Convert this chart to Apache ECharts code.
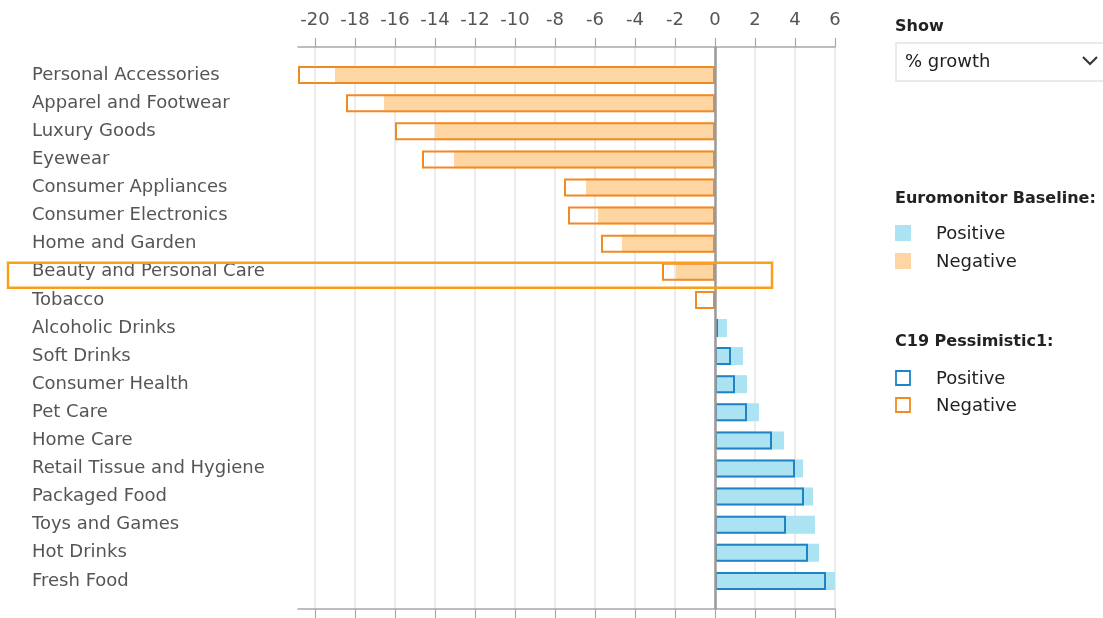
<!DOCTYPE html>
<html>
<head>
<meta charset="utf-8">
<script src="https://cdn.jsdelivr.net/npm/echarts@6/dist/echarts.min.js"></script>
<style>
  html, body { margin: 0; padding: 0; background: #ffffff; }
  #chart { width: 1103px; height: 618px; }
</style>
</head>
<body>
<div id="chart"></div>
<script>
const categories = [
  'Personal Accessories', 'Apparel and Footwear', 'Luxury Goods', 'Eyewear',
  'Consumer Appliances', 'Consumer Electronics', 'Home and Garden',
  'Beauty and Personal Care', 'Tobacco', 'Alcoholic Drinks', 'Soft Drinks',
  'Consumer Health', 'Pet Care', 'Home Care', 'Retail Tissue and Hygiene',
  'Packaged Food', 'Toys and Games', 'Hot Drinks', 'Fresh Food'
];
const baselineGrowth = [-19.0, -16.55, -14.0, -13.05, -6.45, -5.85, -4.65, -1.95, 0, 0.6, 1.4, 1.6, 2.2, 3.45, 4.4, 4.9, 5.0, 5.2, 6.0];
const pessimisticGrowth = [-20.85, -18.45, -16.0, -14.65, -7.55, -7.35, -5.7, -2.65, -1.0, 0.15, 0.8, 1.0, 1.6, 2.85, 4.0, 4.45, 3.55, 4.65, 5.55];
const xTickValues = [-20, -18, -16, -14, -12, -10, -8, -6, -4, -2, 0, 2, 4, 6];
const highlightCategory = 'Beauty and Personal Care';

const FONT = '"DejaVu Sans", sans-serif';
const POS_FILL = '#abe3f2', NEG_FILL = '#fdd6a4';
const POS_LINE = '#1f84c6', NEG_LINE = '#f08a24';

// pad with empty slots so the categories sit inside the axis span
const yData = [''].concat(categories, ['']);
const pad = arr => ['-'].concat(arr, ['-']);
const xMin = Math.min.apply(null, pessimisticGrowth.concat(baselineGrowth));
const xMax = 6;

const chart = echarts.init(document.getElementById('chart'), null, { renderer: 'canvas' });

const xAxisBase = {
  type: 'value', min: xMin, max: xMax,
  axisLine: { show: true, lineStyle: { color: '#a8a8a8', width: 1.5 } },
  axisTick: { show: true, length: 9, customValues: xTickValues, lineStyle: { color: '#a8a8a8', width: 1.2 } },
};

const option = {
  animation: false,
  backgroundColor: '#ffffff',
  grid: { left: 298, right: 268, top: 47, bottom: 9, containLabel: false },
  xAxis: [
    Object.assign({}, xAxisBase, {
      position: 'top',
      axisLabel: { show: true, customValues: xTickValues, margin: 18, color: '#555', fontSize: 18, fontFamily: FONT },
      splitLine: { show: true, lineStyle: { color: '#e6e6e6', width: 1.5 } }
    }),
    Object.assign({}, xAxisBase, {
      position: 'bottom',
      axisLabel: { show: false },
      splitLine: { show: false }
    })
  ],
  yAxis: {
    type: 'category', data: yData, inverse: true, boundaryGap: false,
    axisLine: { show: false }, axisTick: { show: false }, splitLine: { show: false },
    axisLabel: { align: 'left', margin: 266, color: '#555', fontSize: 18, fontFamily: FONT }
  },
  series: [
    {
      name: 'Euromonitor Baseline', type: 'bar', xAxisIndex: 0, barWidth: 18,
      data: pad(baselineGrowth),
      itemStyle: { color: p => (p.value >= 0 ? POS_FILL : NEG_FILL) },
      markLine: {
        silent: true, symbol: 'none', label: { show: false },
        lineStyle: { color: '#9a9a9a', width: 2.5, type: 'solid' },
        data: [{ xAxis: 0 }]
      },
      z: 2
    },
    {
      name: 'C19 Pessimistic1', type: 'bar', xAxisIndex: 0, barWidth: 18, barGap: '-100%',
      data: pad(pessimisticGrowth).map(v => v === '-' ? v : ({ value: v, itemStyle: { borderColor: v >= 0 ? POS_LINE : NEG_LINE } })),
      itemStyle: { color: 'rgba(0,0,0,0)', borderWidth: 2 },
      z: 3
    }
  ]
};
chart.setOption(option);

const hy = chart.convertToPixel({ yAxisIndex: 0 }, highlightCategory);
const legendText = (x, y, text, bold) => ({
  type: 'text', x: x, y: y,
  style: { text: text, fill: '#222', font: (bold ? 'bold 16px ' : '18px ') + FONT, textVerticalAlign: 'middle' }
});
chart.setOption({
  graphic: [
    { type: 'rect', shape: { x: 8, y: hy - 9, width: 764, height: 25 }, style: { fill: 'none', stroke: '#f9a01b', lineWidth: 2.5 }, z: 10 },
    legendText(895, 27, 'Show', true),
    { type: 'rect', shape: { x: 896, y: 43, width: 220, height: 38 }, style: { fill: '#fff', stroke: '#e4e4e4', lineWidth: 1.5 } },
    legendText(905, 62, '% growth', false),
    { type: 'polyline', shape: { points: [[1083, 57], [1090, 64], [1097, 57]] }, style: { stroke: '#333', lineWidth: 2, fill: 'none' } },
    legendText(895, 199, 'Euromonitor Baseline:', true),
    { type: 'rect', shape: { x: 895, y: 225, width: 16, height: 16 }, style: { fill: POS_FILL } },
    legendText(936, 234, 'Positive', false),
    { type: 'rect', shape: { x: 895, y: 253, width: 16, height: 16 }, style: { fill: NEG_FILL } },
    legendText(936, 262, 'Negative', false),
    legendText(895, 342, 'C19 Pessimistic1:', true),
    { type: 'rect', shape: { x: 896, y: 371, width: 14, height: 14 }, style: { fill: 'none', stroke: POS_LINE, lineWidth: 1.8 } },
    legendText(936, 379, 'Positive', false),
    { type: 'rect', shape: { x: 896, y: 398, width: 14, height: 14 }, style: { fill: 'none', stroke: NEG_LINE, lineWidth: 1.8 } },
    legendText(936, 406, 'Negative', false)
  ]
});
</script>
</body>
</html>
